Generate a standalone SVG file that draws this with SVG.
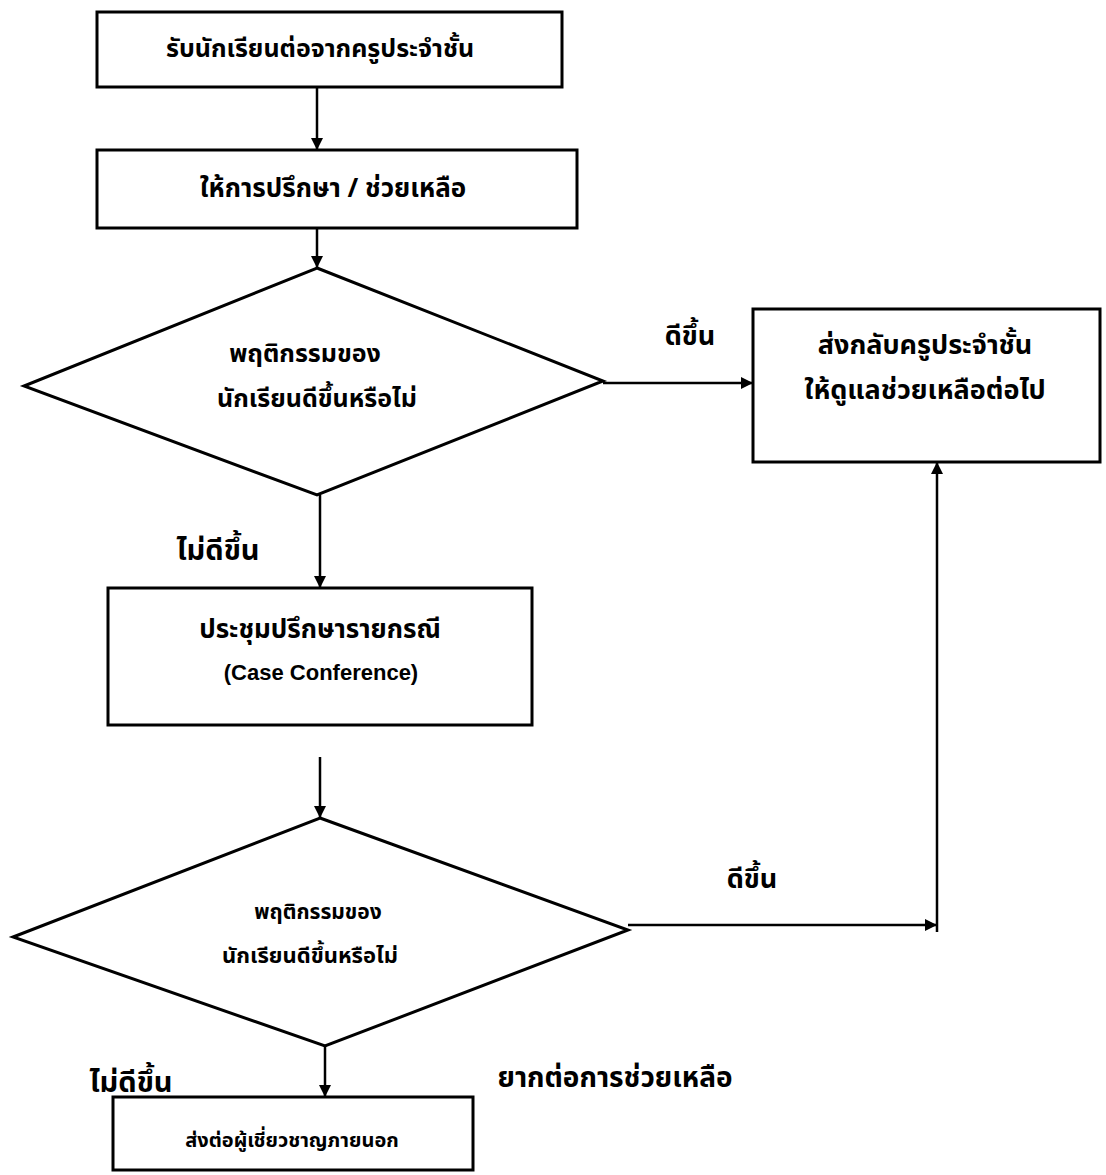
<svg xmlns="http://www.w3.org/2000/svg" width="1106" height="1175" viewBox="0 0 1106 1175">
<style>
.box{fill:none;stroke:#000;stroke-width:3}
.con{fill:none;stroke:#000;stroke-width:2.5}
.t{font-family:"Noto Sans Thai","Loma","Garuda","Tlwg Typo","DejaVu Sans","Noto Sans",sans-serif;font-weight:bold;fill:#000;text-anchor:middle}
.e{font-family:"Liberation Sans",Arial,sans-serif;font-weight:bold;fill:#000;text-anchor:middle}
</style>
<defs>
<marker id="ah" viewBox="0 0 12 12" refX="12" refY="6" markerWidth="12" markerHeight="12" markerUnits="userSpaceOnUse" orient="auto">
<path d="M0,0 L12,6 L0,12 z" fill="#000"/>
</marker>
</defs>
<rect width="1106" height="1175" fill="#fff"/>
<g id="n1"><rect class="box" x="97" y="12" width="465" height="75"/><text class="t" x="320" y="57" font-size="25">รับนักเรียนต่อจากครูประจำชั้น</text></g>
<g id="n2"><rect class="box" x="97" y="150" width="480" height="78"/><text class="t" x="333" y="197" font-size="26">ให้การปรึกษา / ช่วยเหลือ</text></g>
<g id="d1"><polygon class="box" points="317,268 603,381 317,495 24,386"/><text class="t" x="305" y="362" font-size="25">พฤติกรรมของ</text><text class="t" x="317" y="407" font-size="25">นักเรียนดีขึ้นหรือไม่</text></g>
<g id="n4"><rect class="box" x="753" y="309" width="347" height="153"/><text class="t" x="925" y="354" font-size="27">ส่งกลับครูประจำชั้น</text><text class="t" x="925" y="399" font-size="27">ให้ดูแลช่วยเหลือต่อไป</text></g>
<g id="n3"><rect class="box" x="108" y="588" width="424" height="137"/><text class="t" x="320" y="638" font-size="26">ประชุมปรึกษารายกรณี</text><text class="e" x="321" y="680" font-size="22">(Case Conference)</text></g>
<g id="d2"><polygon class="box" points="320,818 628,930 325,1046 13,937"/><text class="t" x="318" y="919" font-size="21">พฤติกรรมของ</text><text class="t" x="310" y="963" font-size="22">นักเรียนดีขึ้นหรือไม่</text></g>
<g id="n5"><rect class="box" x="113" y="1097" width="360" height="73"/><text class="t" x="292" y="1147" font-size="20">ส่งต่อผู้เชี่ยวชาญภายนอก</text></g>
<g id="connectors">
<line class="con" x1="317" y1="87" x2="317" y2="150" marker-end="url(#ah)"/>
<line class="con" x1="317" y1="228" x2="317" y2="268" marker-end="url(#ah)"/>
<line class="con" x1="603" y1="383" x2="753" y2="383" marker-end="url(#ah)"/>
<line class="con" x1="320" y1="495" x2="320" y2="588" marker-end="url(#ah)"/>
<line class="con" x1="320" y1="757" x2="320" y2="818" marker-end="url(#ah)"/>
<line class="con" x1="628" y1="925" x2="937" y2="925" marker-end="url(#ah)"/>
<line class="con" x1="937" y1="932" x2="937" y2="462" marker-end="url(#ah)"/>
<line class="con" x1="325" y1="1046" x2="325" y2="1097" marker-end="url(#ah)"/>
</g>
<g id="labels">
<text class="t" x="690" y="345" font-size="27">ดีขึ้น</text>
<text class="t" x="218" y="560" font-size="29">ไม่ดีขึ้น</text>
<text class="t" x="752" y="888" font-size="27">ดีขึ้น</text>
<text class="t" x="131" y="1092" font-size="29">ไม่ดีขึ้น</text>
<text class="t" x="615" y="1087" font-size="28">ยากต่อการช่วยเหลือ</text>
</g>
</svg>
